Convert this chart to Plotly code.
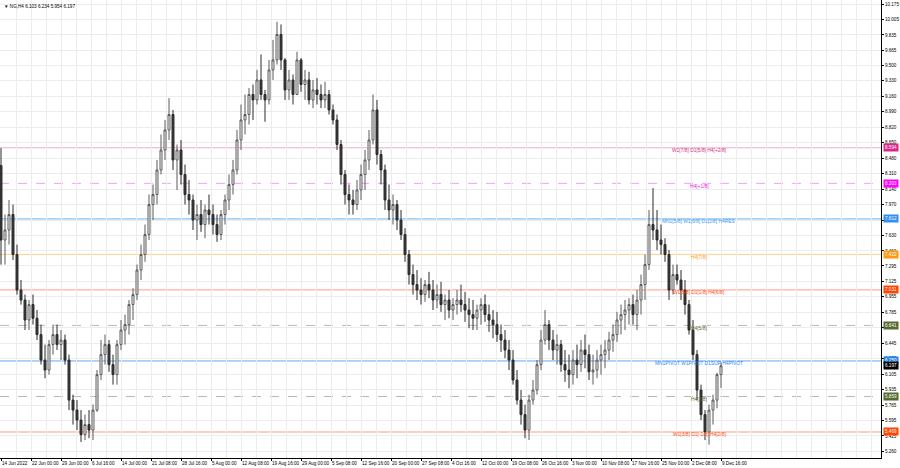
import plotly.graph_objects as go

# ---------------- data ----------------
first_open = 8.40
high = [
    8.59, 7.86, 8.02, 7.97, 7.53, 7.14, 6.98, 6.92, 6.98, 6.81,
    6.65, 6.43, 6.48, 6.65, 6.65, 6.59, 6.54, 6.32, 5.88, 5.82,
    5.71, 5.66, 5.71, 5.77, 6.15, 6.48, 6.54, 6.48, 6.32, 6.48,
    6.70, 6.76, 6.92, 7.05, 7.31, 7.53, 7.75, 8.08, 8.19, 8.46,
    8.74, 8.90, 9.14, 9.01, 8.63, 8.68, 8.41, 8.24, 8.08, 7.97,
    8.02, 7.97, 8.08, 7.97, 7.86, 7.91, 8.08, 8.30, 8.46, 8.79,
    9.07, 9.18, 9.25, 9.29, 9.45, 9.62, 9.23, 9.56, 9.78, 9.98,
    9.95, 9.58, 9.45, 9.40, 9.65, 9.58, 9.45, 9.43, 9.34, 9.36,
    9.29, 9.32, 9.23, 9.07, 8.96, 8.68, 8.35, 8.19, 8.13, 8.24,
    8.41, 8.57, 8.79, 9.18, 9.12, 8.57, 8.41, 8.19, 8.08, 8.02,
    7.91, 7.71, 7.47, 7.31, 7.25, 7.16, 7.14, 7.23, 7.14, 7.09,
    7.12, 6.98, 7.03, 6.94, 7.03, 7.09, 7.01, 6.94, 6.92, 6.87,
    6.94, 6.98, 6.87, 6.81, 6.79, 6.65, 6.59, 6.48, 6.37, 6.15,
    5.93, 5.77, 5.88, 6.04, 6.26, 6.59, 6.81, 6.70, 6.59, 6.54,
    6.48, 6.37, 6.32, 6.37, 6.43, 6.48, 6.54, 6.43, 6.32, 6.37,
    6.43, 6.48, 6.57, 6.65, 6.79, 6.87, 6.92, 6.94, 6.98, 7.03,
    7.20, 7.42, 7.91, 8.15, 7.91, 7.75, 7.60, 7.47, 7.31, 7.31,
    7.25, 7.14, 6.92, 6.70, 6.37, 5.99, 5.71, 5.77, 5.88, 6.12,
    6.234,
]
low = [
    7.31, 7.31, 7.53, 7.36, 6.98, 6.87, 6.59, 6.59, 6.65, 6.48,
    6.21, 6.06, 6.10, 6.32, 6.37, 6.26, 6.21, 5.71, 5.55, 5.49,
    5.36, 5.38, 5.40, 5.38, 5.69, 6.04, 6.21, 6.13, 5.99, 5.99,
    6.37, 6.43, 6.54, 6.70, 6.92, 7.14, 7.34, 7.58, 7.80, 7.97,
    8.30, 8.46, 8.68, 8.35, 8.13, 8.19, 7.97, 7.86, 7.69, 7.58,
    7.67, 7.60, 7.75, 7.64, 7.56, 7.58, 7.75, 7.91, 8.08, 8.30,
    8.57, 8.74, 8.85, 8.90, 9.07, 9.12, 8.88, 9.07, 9.34, 9.51,
    9.45, 9.12, 9.12, 9.07, 9.18, 9.21, 9.12, 9.07, 9.03, 9.07,
    9.03, 9.03, 8.96, 8.85, 8.57, 8.19, 7.97, 7.86, 7.86, 7.91,
    8.02, 8.13, 8.35, 8.63, 8.41, 8.19, 7.91, 7.80, 7.75, 7.69,
    7.58, 7.34, 7.09, 6.98, 6.92, 6.87, 6.90, 6.94, 6.81, 6.83,
    6.79, 6.70, 6.72, 6.70, 6.76, 6.79, 6.68, 6.61, 6.59, 6.59,
    6.65, 6.68, 6.57, 6.50, 6.46, 6.35, 6.28, 6.15, 5.99, 5.77,
    5.55, 5.40, 5.38, 5.77, 5.88, 6.15, 6.43, 6.37, 6.26, 6.21,
    6.13, 6.02, 5.95, 5.99, 6.06, 6.13, 6.17, 6.04, 5.99, 6.06,
    6.10, 6.17, 6.26, 6.35, 6.46, 6.54, 6.59, 6.65, 6.65, 6.59,
    6.76, 6.92, 7.25, 7.58, 7.47, 7.42, 7.34, 6.92, 6.98, 7.09,
    6.92, 6.76, 6.54, 6.26, 5.82, 5.60, 5.38, 5.33, 5.55, 5.73,
    5.954,
]
close = [
    7.58, 7.69, 7.86, 7.42, 7.03, 6.92, 6.70, 6.87, 6.72, 6.54,
    6.26, 6.15, 6.43, 6.54, 6.43, 6.48, 6.26, 5.82, 5.71, 5.60,
    5.44, 5.55, 5.49, 5.71, 6.10, 6.32, 6.43, 6.21, 6.10, 6.43,
    6.59, 6.65, 6.87, 6.98, 7.25, 7.42, 7.64, 7.97, 8.08, 8.35,
    8.57, 8.79, 8.96, 8.46, 8.57, 8.30, 8.08, 8.02, 7.80, 7.86,
    7.75, 7.91, 7.86, 7.75, 7.64, 7.86, 8.02, 8.19, 8.35, 8.68,
    8.90, 8.96, 9.18, 9.12, 9.34, 9.18, 9.12, 9.45, 9.56, 9.84,
    9.56, 9.23, 9.34, 9.18, 9.56, 9.29, 9.34, 9.12, 9.23, 9.18,
    9.12, 9.18, 9.01, 8.90, 8.63, 8.30, 8.08, 8.02, 7.97, 8.13,
    8.30, 8.46, 8.68, 9.01, 8.52, 8.35, 8.02, 7.91, 7.97, 7.80,
    7.64, 7.42, 7.20, 7.09, 7.03, 6.98, 7.09, 7.03, 6.92, 6.98,
    6.87, 6.92, 6.81, 6.87, 6.92, 6.87, 6.81, 6.76, 6.72, 6.81,
    6.87, 6.76, 6.70, 6.65, 6.54, 6.48, 6.37, 6.26, 6.04, 5.82,
    5.66, 5.49, 5.82, 5.93, 6.21, 6.48, 6.65, 6.48, 6.37, 6.43,
    6.21, 6.15, 6.10, 6.26, 6.21, 6.37, 6.32, 6.13, 6.15, 6.26,
    6.32, 6.37, 6.48, 6.54, 6.70, 6.76, 6.81, 6.87, 6.76, 6.92,
    7.09, 7.31, 7.75, 7.69, 7.58, 7.53, 7.42, 7.03, 7.20, 7.14,
    7.03, 6.87, 6.59, 6.32, 5.93, 5.66, 5.47, 5.71, 5.82, 6.10,
    6.197,
]

date_labels = [
    "14 Jun 2022", "22 Jun 00:00", "29 Jun 00:00", "6 Jul 16:00", "14 Jul 00:00",
    "21 Jul 08:00", "28 Jul 16:00", "5 Aug 00:00", "12 Aug 08:00", "19 Aug 16:00",
    "29 Aug 00:00", "5 Sep 08:00", "12 Sep 16:00", "20 Sep 00:00", "27 Sep 08:00",
    "4 Oct 16:00", "12 Oct 00:00", "19 Oct 08:00", "26 Oct 16:00", "3 Nov 00:00",
    "10 Nov 08:00", "17 Nov 16:00", "25 Nov 00:00", "2 Dec 08:00", "9 Dec 16:00",
]
price_ticks = [
    10.175, 10.005, 9.835, 9.665, 9.500, 9.330, 9.160, 8.990, 8.820, 8.650,
    8.480, 8.310, 8.140, 7.970, 7.800, 7.630, 7.460, 7.295, 7.125, 6.955,
    6.785, 6.615, 6.445, 6.275, 6.105, 5.935, 5.765, 5.595, 5.425, 5.260,
]
level_prices = [8.594, 8.203, 7.812, 7.422, 7.031, 6.641, 6.250, 5.859, 5.469]
level_names = [
    "W1[7/8] D1[5/8] H4[+2/8]",
    "H4[+1/8]",
    "MN1[5/8] W1[6/8] D1[2/8] H4RES",
    "H4[7/8]",
    "W1[5/8] D1[1/8] H4[6/8]",
    "H4[5/8]",
    "MN1PIVOT W1PIVOT D1SUP H4PIVOT",
    "H4[3/8]",
    "W1[3/8] D1[-1/8] H4[2/8]",
]
header = ["NG,H4", 6.103, 6.234, 5.954, 6.197]
bars_per_candle = 4
bars_per_label = 30

# ---------------- styles ----------------
line_colors = ["#f4a9cb", "#f49cf4", "#66b3f5", "#ffcf8a", "#ff9c85",
               "#b9b9a3", "#66a9f2", "#b9b9a3", "#ff9c85"]
line_dash = ["solid", "dash", "solid", "solid", "solid", "dash", "solid", "dash", "solid"]
text_colors = ["#d0308a", "#e020e0", "#3d9cf0", "#ff9a10", "#ff4a10",
               "#556b2f", "#1e88f0", "#556b2f", "#ff4a10"]
box_colors = ["#d9278a", "#ff00ff", "#2f8ff5", "#ff9a10", "#ff4500",
              "#556b2f", "#1e88f0", "#556b2f", "#ff4500"]

FONT = "Liberation Sans"
FS = 4.6
FS_LVL = 4.9

x = [bars_per_candle * i for i in range(len(close))]
opens = [first_open] + close[:-1]

fig = go.Figure()
fig.add_trace(go.Candlestick(
    x=x, open=opens, high=high, low=low, close=close,
    increasing=dict(line=dict(color="#5a5a5a", width=1), fillcolor="#ffffff"),
    decreasing=dict(line=dict(color="#2a2a2a", width=1), fillcolor="#3a3a3a"),
    whiskerwidth=0, showlegend=False, hoverinfo="skip",
))

shapes = []
annotations = []
for p, name, lc, ld, tc, bc in zip(level_prices, level_names, line_colors, line_dash,
                                    text_colors, box_colors):
    shapes.append(dict(type="line", xref="paper", x0=0, x1=1, yref="y", y0=p, y1=p,
                       line=dict(color=lc, width=1, dash=ld), layer="below"))
    annotations.append(dict(x=698, y=p, xref="x", yref="y", text=name, showarrow=False,
                            xanchor="center", yanchor="middle", yshift=-3,
                            font=dict(family=FONT, size=FS_LVL, color=tc)))
    annotations.append(dict(x=1, y=p, xref="paper", yref="y", text=f"{p:.3f}",
                            showarrow=False, xanchor="left", yanchor="middle", xshift=2,
                            bgcolor=bc, borderpad=1,
                            font=dict(family=FONT, size=FS, color="white")))

# current price box
annotations.append(dict(x=1, y=close[-1], xref="paper", yref="y", text=f"{close[-1]:.3f}",
                        showarrow=False, xanchor="left", yanchor="middle", xshift=2,
                        bgcolor="#000000", borderpad=1,
                        font=dict(family=FONT, size=FS, color="white")))
# header
annotations.append(dict(x=0, y=1, xref="paper", yref="paper",
                        text="▼ " + header[0] + " " + " ".join(f"{v:.3f}" for v in header[1:]),
                        showarrow=False, xanchor="left", yanchor="top", xshift=2, yshift=-2,
                        font=dict(family=FONT, size=FS, color="#000000")))

fig.update_layout(
    width=900, height=468, autosize=False,
    margin=dict(l=0, r=19, t=0, b=10, pad=0),
    paper_bgcolor="white", plot_bgcolor="white",
    shapes=shapes, annotations=annotations,
    xaxis=dict(
        range=[-1, 880], rangeslider=dict(visible=False),
        tickmode="array",
        tickvals=[bars_per_label * i for i in range(len(date_labels))],
        ticktext=date_labels,
        ticklabelposition="outside right", tickangle=0,
        ticks="outside", ticklen=2, tickcolor="#000",
        tickfont=dict(family=FONT, size=FS, color="#000"),
        showgrid=True, gridcolor="#ececec", gridwidth=1,
        minor=dict(dtick=15, tick0=0, showgrid=True, gridcolor="#ececec", gridwidth=1),
        showline=True, linecolor="#000", linewidth=1,
        zeroline=False, automargin=False,
    ),
    yaxis=dict(
        side="right", range=[5.183, 10.219],
        tickmode="array", tickvals=price_ticks,
        ticktext=[f"{v:.3f}" for v in price_ticks],
        ticks="outside", ticklen=2, tickcolor="#000",
        tickfont=dict(family=FONT, size=FS, color="#000"),
        showgrid=True, gridcolor="#ececec", gridwidth=1,
        showline=True, linecolor="#000", linewidth=1,
        zeroline=False, automargin=False,
    ),
)

fig.write_html("out.html", config={"displayModeBar": False, "staticPlot": True},
               post_script="document.body.style.margin='0px';document.body.style.overflow='hidden';")
